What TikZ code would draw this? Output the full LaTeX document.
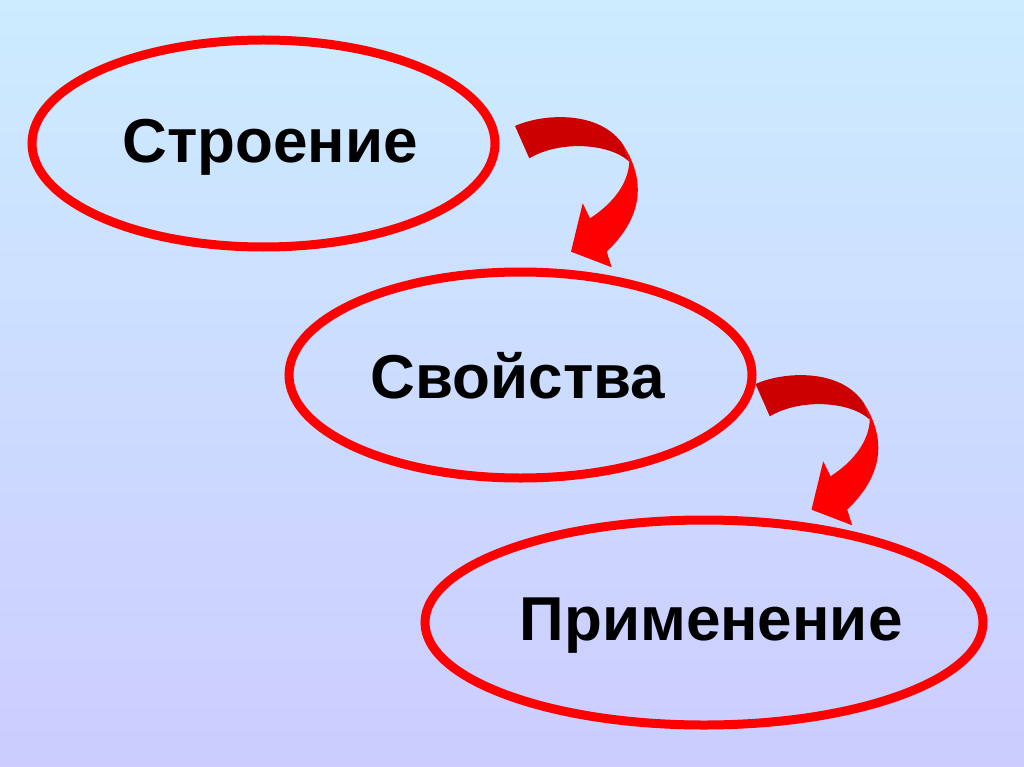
\documentclass[tikz,border=0pt]{standalone}
\usepackage{fontspec}
\setmainfont{Liberation Sans}
\usetikzlibrary{shapes.geometric}
\definecolor{skytop}{RGB}{204,236,255}
\definecolor{skybottom}{RGB}{204,204,255}
\definecolor{backred}{RGB}{204,0,0}
\tikzset{
  oval/.style={ellipse, draw=red, line width=9pt, inner sep=0pt},
  word/.style={anchor=base, font=\fontsize{62}{62}\selectfont\bfseries},
  twistarrow/.pic={
    \fill[backred] (15,26) .. controls (43.3,13.3) and (100,10) .. (123.3,45)
      -- (129.3,61.7) .. controls (110,43.3) and (60,40) .. (29.3,58.3) -- cycle;
    \fill[red] (123.3,45) .. controls (143.3,76.7) and (146.7,113.3) .. (106.7,151.7)
      -- (111.7,167.3) -- (71,151.7) -- (82.7,103.3) -- (90,118.3)
      .. controls (113.3,103.3) and (128.3,83.3) .. (129.3,61.7) -- cycle;
  }
}
\begin{document}
\begin{tikzpicture}[x=1pt,y=-1pt]
  \shade[top color=skytop, bottom color=skybottom] (0,0) rectangle (1024,767);
  \node[oval, minimum width=463pt, minimum height=207pt] (stroenie) at (263.5,143.5) {};
  \node[oval, minimum width=463pt, minimum height=206pt] (svoistva) at (520.5,375) {};
  \node[oval, minimum width=558pt, minimum height=205pt] (primenenie) at (704,622.5) {};
  \node[word] (t1) at (270,163) {Строение};
  \node[word] (t2) at (518,398) {Свойства};
  \node[word] (t3) at (711,640) {Применение};
  \coordinate (a1) at (500,100);
  \coordinate (a2) at (740.5,358);
  \pic at (a1) {twistarrow};
  \pic at (a2) {twistarrow};
\end{tikzpicture}
\end{document}
